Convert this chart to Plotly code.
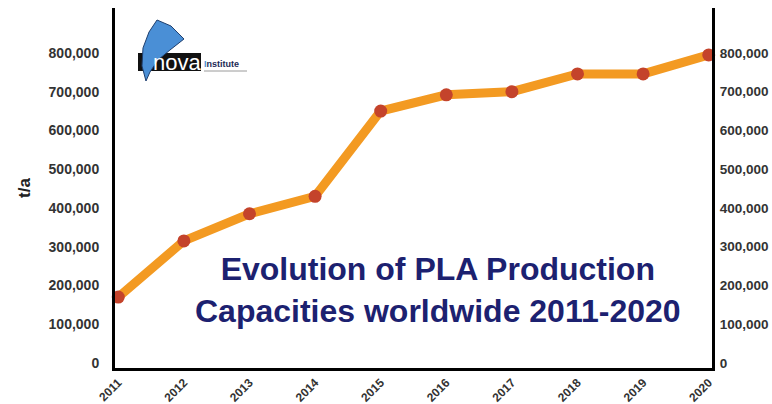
import plotly.graph_objects as go

# PLA production capacity, tonnes per annum
years = ["2011", "2012", "2013", "2014", "2015", "2016", "2017", "2018", "2019", "2020"]
capacity = [170000, 315000, 385000, 430000, 650000, 692000, 700000, 746000, 746000, 795000]

tick_values = [0, 100000, 200000, 300000, 400000, 500000, 600000, 700000, 800000]
tick_labels = ["0", "100,000", "200,000", "300,000", "400,000",
               "500,000", "600,000", "700,000", "800,000"]

title_lines = ["Evolution of PLA Production", "Capacities worldwide 2011-2020"]

W, H = 772, 404
L, R, T, B = 115, 60, 8, 36
PW, PH = W - L - R, H - T - B


def px(x, y):
    """Convert a pixel position on the page to paper coordinates."""
    return (x - L) / PW, (H - B - y) / PH


fig = go.Figure()
fig.add_trace(go.Scatter(
    x=list(range(len(years))), y=capacity,
    mode="lines+markers",
    line=dict(color="#f39a22", width=9),
    marker=dict(color="#c4432b", size=13, line=dict(width=0)),
    cliponaxis=False, showlegend=False,
))
# invisible copy on the right-hand axis so that axis gets drawn
fig.add_trace(go.Scatter(
    x=list(range(len(years))), y=capacity, yaxis="y2",
    mode="markers", marker=dict(opacity=0), hoverinfo="skip",
    showlegend=False,
))

yrange = [-13000, 916000]
tick_font = dict(family="Liberation Sans", size=14, color="#333333", weight="bold")

fig.update_layout(
    width=W, height=H,
    margin=dict(l=L, r=R, t=T, b=B, autoexpand=False),
    paper_bgcolor="white", plot_bgcolor="white",
    xaxis=dict(
        range=[-0.05, len(years) - 1 + 0.05],
        tickvals=list(range(len(years))), ticktext=years,
        tickangle=-45, tickfont=dict(family="Liberation Sans", size=12,
                                     color="#333333", weight="bold"),
        showgrid=False, zeroline=False, ticks="",
        showline=True, linecolor="black", linewidth=3,
        ticklabelstandoff=0, automargin=False,
    ),
    yaxis=dict(
        range=yrange, tickvals=tick_values, ticktext=tick_labels,
        tickfont=tick_font, showgrid=False, zeroline=False, ticks="",
        showline=True, linecolor="black", linewidth=3,
        ticklabelstandoff=10, automargin=False,
        title=dict(text="t/a", standoff=14,
                   font=dict(family="Liberation Sans", size=17,
                             color="#222222", weight="bold")),
    ),
    yaxis2=dict(
        range=yrange, tickvals=tick_values, ticktext=tick_labels,
        tickfont=dict(tick_font, size=13.5), showgrid=False, zeroline=False,
        ticks="", showline=True, linecolor="black", linewidth=3,
        overlaying="y", side="right", ticklabelstandoff=2, automargin=False,
    ),
)

# Chart heading inside the plot area
hx, hy = px(438, 290)
fig.add_annotation(
    x=hx, y=hy, xref="paper", yref="paper",
    text="<br>".join(title_lines), showarrow=False,
    xanchor="center", yanchor="middle", align="center",
    font=dict(family="Liberation Sans", size=32, color="#1c2170", weight="bold"),
)

# nova-Institute logo: black box with "nova", blue sail, "Institute" text
bx0, by0 = px(138, 53)
bx1, by1 = px(201, 71)
fig.add_shape(type="rect", x0=bx0, y0=by1, x1=bx1, y1=by0,
              xref="paper", yref="paper", fillcolor="#111111",
              line=dict(color="#111111", width=0))

sail = [(157, 20), (171, 26), (184, 39), (170, 50), (158, 60), (150, 72),
        (146, 81), (142, 66), (143, 48), (149, 32)]
path = "M " + " L ".join(f"{px(x, y)[0]:.4f},{px(x, y)[1]:.4f}" for x, y in sail) + " Z"
fig.add_shape(type="path", path=path, xref="paper", yref="paper",
              fillcolor="#4a8fd6", line=dict(color="#1f3f6e", width=1))

nx, ny = px(177, 62)
fig.add_annotation(x=nx, y=ny, xref="paper", yref="paper", text="nova",
                   showarrow=False, xanchor="center", yanchor="middle",
                   font=dict(family="Liberation Sans", size=22, color="white"))
ix, iy = px(202, 64)
fig.add_annotation(x=ix, y=iy, xref="paper", yref="paper",
                   text="<span style='color:#4a8fd6'>I</span>nstitute",
                   showarrow=False, xanchor="left", yanchor="middle",
                   font=dict(family="Liberation Sans", size=9, color="#1c2a55",
                             weight="bold"))
lx0, ly = px(204, 71)
lx1, _ = px(247, 71)
fig.add_shape(type="line", x0=lx0, x1=lx1, y0=ly, y1=ly, xref="paper",
              yref="paper", line=dict(color="#9a9a9a", width=1))

fig.write_html("out.html")
